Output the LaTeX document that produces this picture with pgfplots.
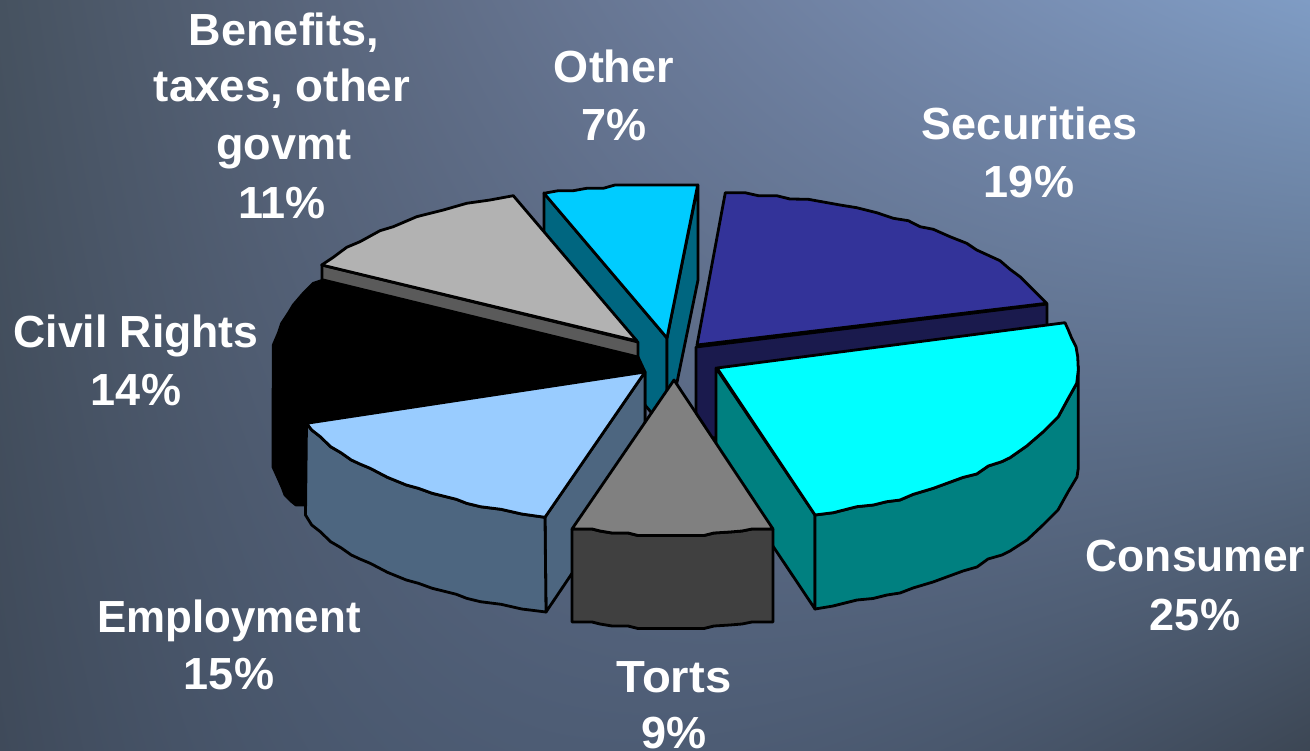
\documentclass[border=0pt]{standalone}
\usepackage{pgfplots}
\pgfplotsset{compat=1.18}
\usepackage{fontspec}
\setmainfont{Liberation Sans}

% Slide backdrop: colour is quadratic across the width and linear from bottom to top,
% darkest in the lower corners and brightest in the upper right.
% A path is fitted to the inner 50bp square of a shading, hence the +-25 mapping.
\pgfdeclarefunctionalshading{slidebg}{\pgfpoint{-50bp}{-50bp}}{\pgfpoint{50bp}{50bp}}{}{
  25 add 50 div exch 25 add 50 div exch
  1 index dup mul -0.244 mul 2 index 0.232 mul add 0.247 add
  2 index dup mul 0.126 mul 3 index 0.109 mul add 0.028 add
  2 index mul add
  2 index dup mul -0.314 mul 3 index 0.299 mul add 0.29 add
  3 index dup mul 0.27 mul 4 index 0.035 mul add 0.032 add
  3 index mul add
  3 index dup mul -0.456 mul 4 index 0.432 mul add 0.353 add
  4 index dup mul 0.362 mul 5 index 0.055 mul add 0.023 add
  4 index mul add
  5 -2 roll pop pop
}

\definecolor{otherTop}{HTML}{00CCFF}
\definecolor{otherSide}{HTML}{006680}
\definecolor{benefitTop}{HTML}{B2B2B2}
\definecolor{benefitSide}{HTML}{5A5A5A}
\definecolor{secTop}{HTML}{333399}
\definecolor{secSide}{HTML}{1A1A4D}
\definecolor{consTop}{HTML}{00FFFF}
\definecolor{consSide}{HTML}{008080}
\definecolor{empTop}{HTML}{99CCFF}
\definecolor{empSide}{HTML}{4D6680}
\definecolor{tortTop}{HTML}{808080}
\definecolor{tortSide}{HTML}{404040}

% [horizontal scale]{x}{baseline y}{text}
\newcommand{\lab}[4][1]{\node[anchor=base,text=white,inner sep=0pt,font=\fontsize{45}{54}\selectfont\bfseries] at (axis cs:#2,#3) {\scalebox{#1}[1]{#4}};}

\begin{document}
\begin{tikzpicture}
\shade[shading=slidebg] (0,0) rectangle (1310pt,751pt);
\begin{axis}[
  at={(0,0)},anchor=south west,
  width=1310pt,height=751pt,scale only axis,
  hide axis,clip=false,
  xmin=0,xmax=1310,ymin=0,ymax=751,y dir=reverse,
  every axis plot/.append style={mark=none,draw=black,line width=2.8pt,line join=round},
]
% Other: walls then top
\addplot[fill=otherSide] coordinates {(544,193)(667,338)(667,431)(544,286)} --cycle;
\addplot[fill=otherSide] coordinates {(667,338)(698,185)(698,280)(667,431)} --cycle;
\addplot[fill=otherTop] coordinates {(544,193.3)(558.3,190.7)(573.3,190.7)(586.7,188.3)(603.3,188.3)(615,185)(697.7,185)(667,338)} --cycle;
% Benefits, taxes, other govmt
\addplot[fill=benefitSide] coordinates {(322,265)(638,342)(638,372)(322,295)} --cycle;
\addplot[fill=benefitTop] coordinates {(321.7,265)(333.3,257.3)(346.7,247.3)(360,241.7)(380,230.7)(393.3,226.7)(416.7,216.7)(443.3,210)(466.7,203.3)(490,200)(513.3,195.7)(637,341)} --cycle;
% Civil Rights
\addplot[fill=black] coordinates {(323.3,280)(313.3,283.3)(303.3,293.3)(293.3,305)(288.3,313.3)(281.7,323.3)(278.3,333.3)(273.3,345)(273,430)(273,467)(278,478)(282,487)(285,495)(291,501)(296,505)(305,505)(645,440)(645,372)(638,357)} --cycle;
% Securities
\addplot[fill=secSide] coordinates {(696,347)(1047,304)(1047,397)(696,440)} --cycle;
\addplot[fill=secTop] coordinates {(697,345)(725.3,192.7)(745,192.7)(758.3,195.7)(776.7,195.7)(790,199)(808.3,199.3)(825,202.3)(840,205)(856.7,207.7)(876.7,212.7)(893.3,218.3)(908.3,220.7)(920,226.7)(933.3,229.3)(950,236.7)(966.7,243.3)(976.7,250)(1000,260.7)(1010,269.3)(1020,276.7)(1033.3,290)(1046.7,303.3)} --cycle;
% Consumer
\addplot[fill=consSide] coordinates {(716,368)(815,515)(815,609)(716,461)} --cycle;
\addplot[fill=consSide] coordinates {(815,515)(833.3,512.7)(856.7,506.7)(873.3,505)(886.7,501.7)(900,500)(913.3,494.3)(933.3,488.3)(963.3,477.3)(976.7,474)(988.3,466)(1001.7,461.7)(1010,457.7)(1026.7,446)(1043.3,431.7)(1058.3,416.7)(1068.3,398.3)(1076.7,383.3)(1078.3,366.7)(1078.3,468)(1077,477)(1068,492)(1058,510)(1043,525)(1027,540)(1010,551)(1002,555)(988,559)(977,567)(963,571)(933,582)(913,588)(900,593)(887,595)(873,598.5)(857,600)(833,606)(815,609)} --cycle;
\addplot[fill=consTop] coordinates {(717,368)(1065,322.7)(1068.3,330)(1071.7,338.3)(1076,346.7)(1077.7,356.7)(1078.3,370)(1076.7,383.3)(1068.3,398.3)(1058.3,416.7)(1043.3,431.7)(1026.7,446)(1010,457.7)(1001.7,461.7)(988.3,466)(976.7,474)(963.3,477.3)(933.3,488.3)(913.3,494.3)(900,500)(886.7,501.7)(873.3,505)(856.7,506.7)(833.3,512.7)(815,515)} --cycle;
% Employment
\addplot[fill=empSide] coordinates {(545,517)(645,372)(645,465)(546,612)} --cycle;
\addplot[fill=empSide] coordinates {(306.5,423.3)(311.7,430)(320.3,436.7)(330.6,446.7)(340.9,452.7)(351.3,460)(359.9,464)(370.2,468.3)(387.4,477.3)(406.3,485)(418.4,488.3)(432.2,493.3)(456.3,499.3)(466.6,503.3)(480.4,506.7)(501,509.3)(521.7,514)(545,517.3)(546,612)(521.7,609)(501,604.3)(480.4,601.7)(466.6,598.3)(456.3,594.3)(432.2,588.3)(418.4,583.3)(406.3,580)(387.4,572.3)(370.2,563.3)(359.9,559)(351.3,555)(340.9,547.7)(330.6,541.7)(320.3,531.7)(311.7,525)(305.5,515)} --cycle;
\addplot[fill=empTop] coordinates {(645,372)(306.5,423.3)(311.7,430)(320.3,436.7)(330.6,446.7)(340.9,452.7)(351.3,460)(359.9,464)(370.2,468.3)(387.4,477.3)(406.3,485)(418.4,488.3)(432.2,493.3)(456.3,499.3)(466.6,503.3)(480.4,506.7)(501,509.3)(521.7,514)(545,517.3)} --cycle;
% Torts
\addplot[fill=tortSide] coordinates {(572,529)(592,529)(600,531)(612,533)(628,533)(638,535.5)(704,535.5)(714,533)(730,532)(742,531)(752,529)(773,529)(773,622)(752,622)(742,624)(730,625)(714,626)(704,628.5)(638,628.5)(628,626)(612,626)(600,624)(592,622)(572,622)} --cycle;
\addplot[fill=tortTop] coordinates {(674,380)(773,529)(752,529)(742,531)(730,532)(714,533)(704,535.5)(638,535.5)(628,533)(612,533)(600,531)(592,529)(572,529)} --cycle;
% Slice labels
\lab{284}{46}{Benefits,}
\lab[1.015]{282}{102}{taxes, other}
\lab{284}{160}{govmt}
\lab{282}{219}{11\%}
\lab{614}{83}{Other}
\lab{614}{141}{7\%}
\lab{1029.5}{140}{Securities}
\lab{1029}{198}{19\%}
\lab[0.985]{1195.5}{571}{Consumer}
\lab{1195}{630}{25\%}
\lab[0.99]{136}{348}{Civil Rights}
\lab{136}{406}{14\%}
\lab[0.975]{229}{632}{Employment}
\lab{229}{689}{15\%}
\lab[1.05]{674}{692}{Torts}
\lab{674}{748}{9\%}
\end{axis}
\end{tikzpicture}
\end{document}
